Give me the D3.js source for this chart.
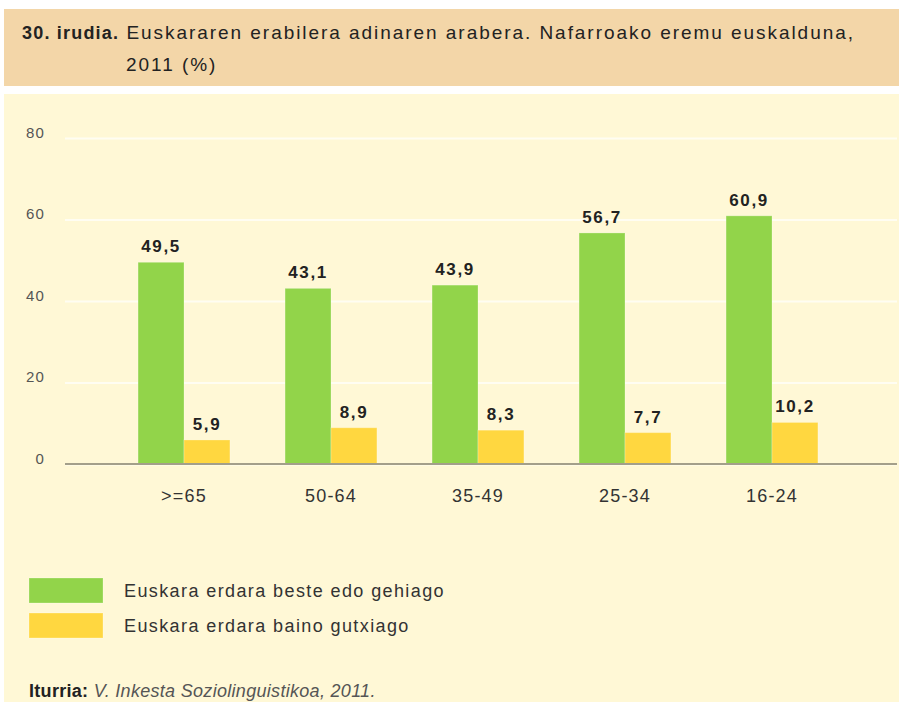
<!DOCTYPE html>
<html>
<head>
<meta charset="utf-8">
<script src="https://cdn.jsdelivr.net/npm/d3@7"></script>
<style>
  body { margin: 0; background: #fff; }
  svg text { font-family: "Liberation Sans", Arial, sans-serif; }
</style>
</head>
<body>
<svg id="chart" width="899" height="702"></svg>
<script>
// data
var ageGroups = [">=65", "50-64", "35-49", "25-34", "16-24"];
var seriesNames = ["Euskara erdara beste edo gehiago", "Euskara erdara baino gutxiago"];
var moreValues = [49.5, 43.1, 43.9, 56.7, 60.9];
var lessValues = [5.9, 8.9, 8.3, 7.7, 10.2];
var yTicks = [0, 20, 40, 60, 80];
var seriesColors = ["#92d44a", "#ffd740"];

var rows = ageGroups.map(function(g, i) {
    return { group: g, values: [moreValues[i], lessValues[i]] };
});

var fmt = d3.formatLocale({ decimal: ",", thousands: ".", grouping: [3], currency: ["", "€"] }).format(".1f");

var svg = d3.select("#chart");

// header box
svg.append("rect")
    .attr("x", 4).attr("y", 9)
    .attr("width", 895).attr("height", 77)
    .attr("fill", "#f3d6a8");

// chart panel
svg.append("rect")
    .attr("x", 4).attr("y", 94)
    .attr("width", 895).attr("height", 610)
    .attr("fill", "#fff8d6");

// title
var title = svg.append("text")
    .attr("x", 22).attr("y", 39)
    .attr("fill", "#222");
title.append("tspan")
    .attr("font-weight", "bold")
    .attr("font-size", "18px")
    .attr("letter-spacing", "1.2px")
    .text("30. irudia.");
title.append("tspan")
    .attr("font-size", "19px")
    .attr("letter-spacing", "1.95px")
    .text(" Euskararen erabilera adinaren arabera. Nafarroako eremu euskalduna,");

svg.append("text")
    .attr("x", 126).attr("y", 71)
    .attr("font-size", "19px")
    .attr("letter-spacing", "1.95px")
    .attr("fill", "#222")
    .text("2011 (%)");

// scales
var y = d3.scaleLinear().domain([0, 80]).range([464, 138]);
var x0 = d3.scaleBand().domain(ageGroups).range([110.5, 845.5]);
var x1 = d3.scaleBand().domain([0, 1]).range([0, x0.bandwidth()]).paddingOuter(0.6);

// y axis + grid
var yAxis = svg.append("g")
    .attr("transform", "translate(65,0)")
    .call(d3.axisLeft(y).tickValues(yTicks).tickSize(-832).tickPadding(20));
yAxis.select(".domain").remove();
yAxis.selectAll(".tick line")
    .attr("stroke", "#fffdf2")
    .attr("stroke-width", 2);
yAxis.selectAll(".tick text")
    .attr("font-size", "15px")
    .attr("letter-spacing", "1.2px")
    .attr("fill", "#555")
    .attr("dy", "-0.05em");

// bars
var groups = svg.selectAll("g.group")
    .data(rows)
    .enter()
    .append("g")
    .attr("class", "group")
    .attr("transform", function(d) { return "translate(" + x0(d.group) + ",0)"; });

groups.selectAll("rect")
    .data(function(d) { return d.values; })
    .enter()
    .append("rect")
    .attr("x", function(d, i) { return x1(i); })
    .attr("y", function(d) { return y(d); })
    .attr("width", x1.bandwidth())
    .attr("height", function(d) { return y(0) - y(d); })
    .attr("fill", function(d, i) { return seriesColors[i]; })
    .attr("stroke", "rgba(255,255,255,0.25)")
    .attr("stroke-width", 1);

groups.selectAll("text.val")
    .data(function(d) { return d.values; })
    .enter()
    .append("text")
    .attr("class", "val")
    .attr("x", function(d, i) { return x1(i) + x1.bandwidth() / 2; })
    .attr("y", function(d) { return y(d) - 10; })
    .attr("text-anchor", "middle")
    .attr("font-size", "17px")
    .attr("font-weight", "bold")
    .attr("letter-spacing", "1.6px")
    .attr("fill", "#222")
    .text(function(d) { return fmt(d); });

// zero line
svg.append("line")
    .attr("x1", 65).attr("x2", 897)
    .attr("y1", y(0)).attr("y2", y(0))
    .attr("stroke", "#a39f8a")
    .attr("stroke-width", 2);

// x axis
var xAxis = svg.append("g")
    .attr("transform", "translate(0," + y(0) + ")")
    .call(d3.axisBottom(x0).tickSize(0).tickPadding(25));
xAxis.select(".domain").remove();
xAxis.selectAll(".tick text")
    .attr("font-size", "18px")
    .attr("letter-spacing", "1.2px")
    .attr("fill", "#333");

// legend
var legend = svg.selectAll("g.legend")
    .data(seriesNames)
    .enter()
    .append("g")
    .attr("class", "legend")
    .attr("transform", function(d, i) { return "translate(29," + (578 + i * 35) + ")"; });

legend.append("rect")
    .attr("width", 74).attr("height", 25)
    .attr("fill", function(d, i) { return seriesColors[i]; })
    .attr("stroke", "rgba(255,255,255,0.25)");

legend.append("text")
    .attr("x", 95).attr("y", 19)
    .attr("font-size", "18px")
    .attr("letter-spacing", "1.4px")
    .attr("fill", "#333")
    .text(function(d) { return d; });

// source
var src = svg.append("text")
    .attr("x", 29).attr("y", 697)
    .attr("font-size", "18px")
    .attr("letter-spacing", "0.3px");
src.append("tspan").attr("font-weight", "bold").attr("fill", "#222").text("Iturria: ");
src.append("tspan").attr("font-style", "italic").attr("fill", "#555").text("V. Inkesta Soziolinguistikoa, 2011.");
</script>
</body>
</html>
